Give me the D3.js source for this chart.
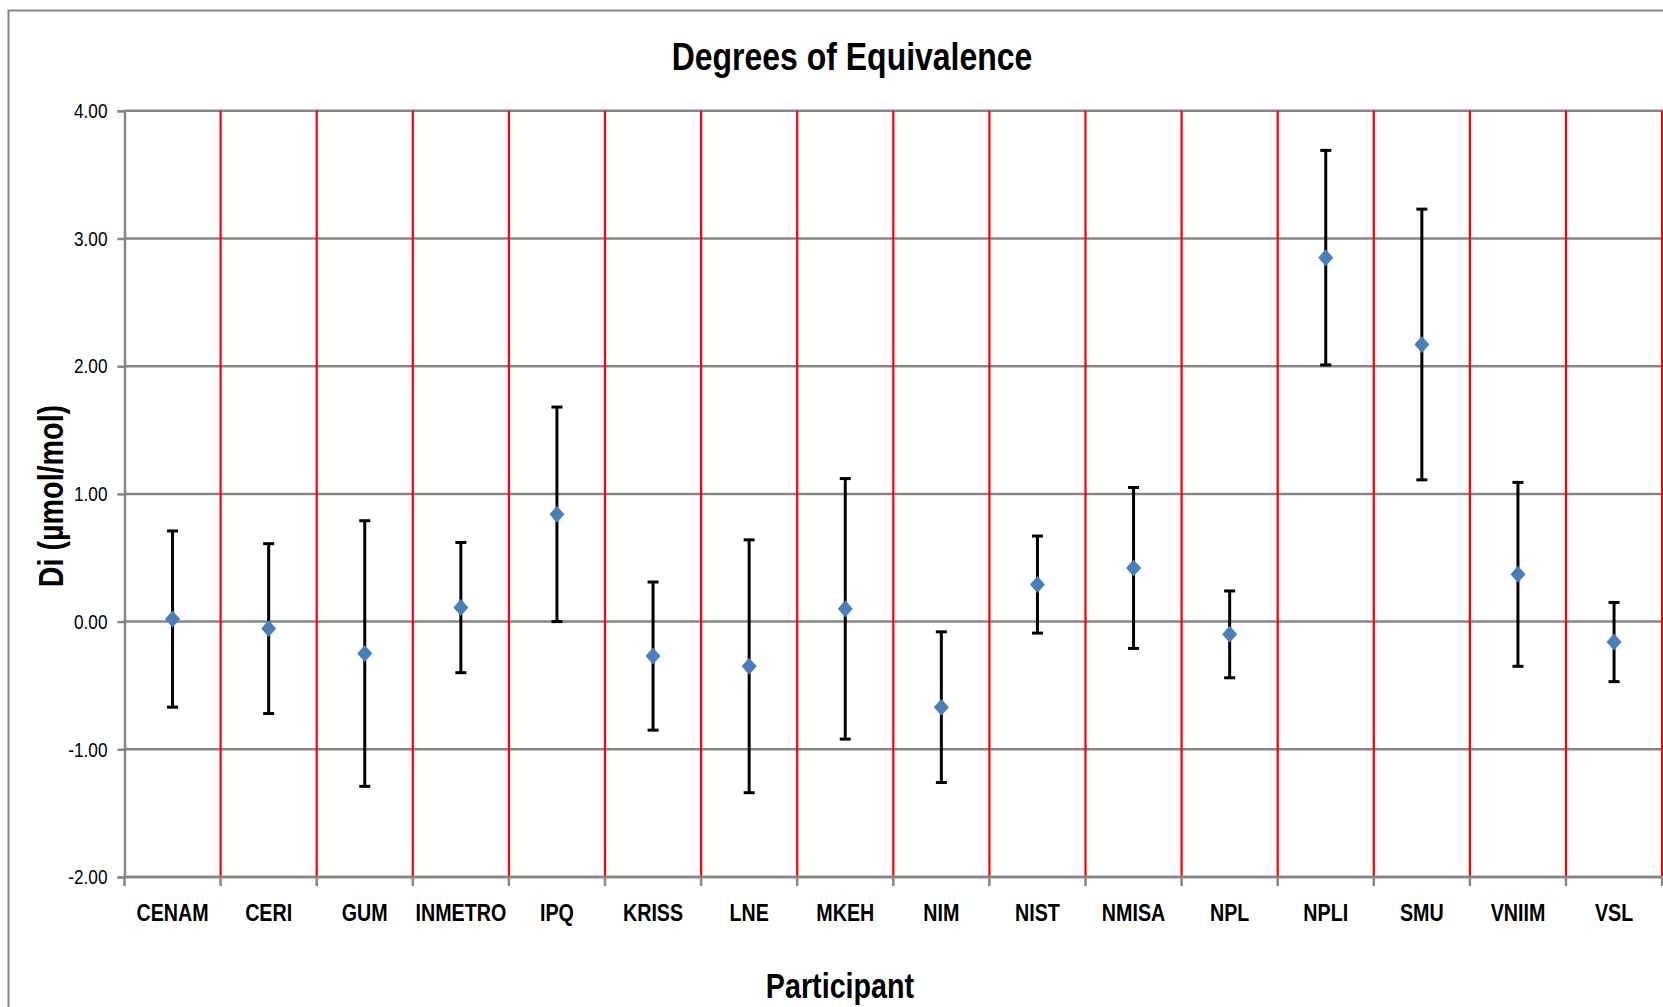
<html>
<head><meta charset="utf-8"></head>
<style>
  html, body { margin: 0; background: #fff; }
  svg { display: block; }
  text { font-family: "Liberation Sans", Arial, sans-serif; fill: #000; }
</style>
<body>
<svg id="chart" width="1663" height="1007"></svg>
<script src="https://cdnjs.cloudflare.com/ajax/libs/d3/7.8.5/d3.min.js"></script>
<script>
  // participants and their degrees of equivalence, with expanded uncertainty
  const participants = ["CENAM", "CERI", "GUM", "INMETRO", "IPQ", "KRISS", "LNE", "MKEH",
                        "NIM", "NIST", "NMISA", "NPL", "NPLI", "SMU", "VNIIM", "VSL"];
  const di = [0.02, -0.055, -0.25, 0.11, 0.84, -0.27, -0.35, 0.10,
              -0.67, 0.29, 0.42, -0.10, 2.85, 2.17, 0.37, -0.16];
  const uncert = [0.69, 0.665, 1.04, 0.51, 0.84, 0.58, 0.99, 1.02,
                  0.59, 0.38, 0.63, 0.34, 0.84, 1.06, 0.72, 0.31];
  const yTicks = [-2, -1, 0, 1, 2, 3, 4];

  const svg = d3.select("#chart");
  const plotLeft = 124.5, step = 96.1;
  const plotTop = 110.8, plotBottom = 877;
  const narrow = 0.82; // squeeze Liberation Sans to a Calibri-like width

  const x = d3.scaleBand()
      .domain(participants)
      .range([plotLeft, plotLeft + step * participants.length])
      .padding(0);

  const y = d3.scaleLinear()
      .domain([-2, 4])
      .range([plotBottom, plotTop]);

  // outer chart border (the right and bottom edges are cut off)
  svg.append("path")
      .attr("d", "M8.5,1007 V10.5 H1663")
      .attr("fill", "none")
      .attr("stroke", "#868686")
      .attr("stroke-width", 2);

  // horizontal gridlines
  svg.append("g")
    .selectAll("line")
    .data(yTicks)
    .join("line")
      .attr("x1", plotLeft)
      .attr("x2", 1663)
      .attr("y1", d => y(d))
      .attr("y2", d => y(d))
      .attr("stroke", "#868686")
      .attr("stroke-width", 2.5);

  // y axis
  const yAxis = svg.append("g")
      .attr("transform", `translate(${plotLeft},0)`)
      .call(d3.axisLeft(y).tickValues(yTicks).tickFormat(d => d.toFixed(2)).tickSize(7).tickPadding(10));
  yAxis.select(".domain").attr("stroke", "#868686").attr("stroke-width", 2.5);
  yAxis.selectAll(".tick line").attr("stroke", "#868686").attr("stroke-width", 2.5);
  yAxis.selectAll(".tick text")
      .attr("font-family", "Liberation Sans, Arial, sans-serif")
      .attr("font-size", 21)
      .attr("fill", "#000")
      .attr("x", -17 / narrow)
      .attr("transform", `scale(${narrow},1)`);

  // red separators between participants
  const bounds = participants.map(p => x(p) + x.bandwidth());
  svg.append("g")
    .selectAll("line")
    .data(bounds)
    .join("line")
      .attr("x1", d => d)
      .attr("x2", d => d)
      .attr("y1", y(4))
      .attr("y2", y(-2))
      .attr("stroke", "#ff0000")
      .attr("stroke-width", 2.2);

  // x axis line with ticks at the boundaries
  const xAxisG = svg.append("g");
  xAxisG.append("line")
      .attr("x1", plotLeft).attr("x2", 1663)
      .attr("y1", y(-2)).attr("y2", y(-2))
      .attr("stroke", "#868686").attr("stroke-width", 2.5);
  xAxisG.selectAll("line.tk")
    .data([plotLeft].concat(bounds))
    .join("line")
      .attr("class", "tk")
      .attr("x1", d => d).attr("x2", d => d)
      .attr("y1", y(-2)).attr("y2", y(-2) + 9)
      .attr("stroke", "#868686").attr("stroke-width", 2.5);
  xAxisG.selectAll("text")
    .data(participants)
    .join("text")
      .attr("transform", d => `translate(${x(d) + x.bandwidth() / 2},921) scale(${narrow},1)`)
      .attr("text-anchor", "middle")
      .attr("font-size", 24)
      .attr("font-weight", "bold")
      .text(d => d);

  // error bars
  const pts = participants.map((p, i) => ({ p: p, v: di[i], u: uncert[i] }));
  const bars = svg.append("g").selectAll("g").data(pts).join("g");
  const cx = d => x(d.p) + x.bandwidth() / 2;
  bars.append("line")
      .attr("x1", cx).attr("x2", cx)
      .attr("y1", d => y(d.v + d.u)).attr("y2", d => y(d.v - d.u))
      .attr("stroke", "#000").attr("stroke-width", 3);
  bars.append("line")
      .attr("x1", d => cx(d) - 5.5).attr("x2", d => cx(d) + 5.5)
      .attr("y1", d => y(d.v + d.u)).attr("y2", d => y(d.v + d.u))
      .attr("stroke", "#000").attr("stroke-width", 3);
  bars.append("line")
      .attr("x1", d => cx(d) - 5.5).attr("x2", d => cx(d) + 5.5)
      .attr("y1", d => y(d.v - d.u)).attr("y2", d => y(d.v - d.u))
      .attr("stroke", "#000").attr("stroke-width", 3);

  // diamond markers
  svg.append("g")
    .selectAll("path")
    .data(pts)
    .join("path")
      .attr("transform", d => `translate(${cx(d)},${y(d.v)})`)
      .attr("d", "M0,-8.5 L7.5,0 L0,8.5 L-7.5,0 Z")
      .attr("fill", "#4a7ebb");

  // titles
  svg.append("text")
      .attr("transform", `translate(852,70) scale(${narrow},1)`)
      .attr("text-anchor", "middle")
      .attr("font-size", 39).attr("font-weight", "bold")
      .text("Degrees of Equivalence");

  svg.append("text")
      .attr("transform", `translate(840,998) scale(${narrow},1)`)
      .attr("text-anchor", "middle")
      .attr("font-size", 35).attr("font-weight", "bold")
      .text("Participant");

  svg.append("text")
      .attr("transform", `translate(63,496) rotate(-90) scale(${narrow},1)`)
      .attr("text-anchor", "middle")
      .attr("font-size", 35).attr("font-weight", "bold")
      .text("Di (µmol/mol)");
</script>
</body>
</html>
